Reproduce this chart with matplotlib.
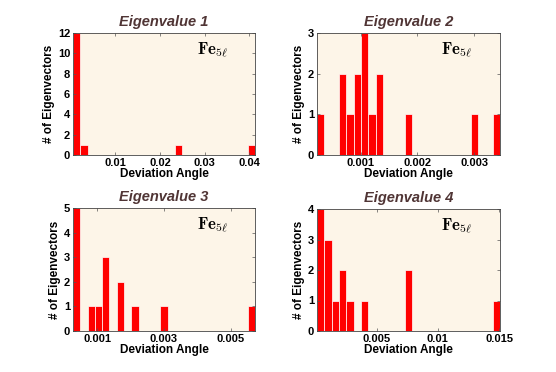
import numpy as np
import matplotlib
matplotlib.use("Agg")
import matplotlib.pyplot as plt

plt.rcParams['mathtext.fontset'] = 'cm'
plt.rcParams['font.family'] = ['Liberation Sans', 'DejaVu Sans']

n_bins = 25

# histogram range (min, max) and non-empty bins (index -> count) per eigenvalue
ranges = [(0.0005, 0.0413), (0.000235, 0.00345), (0.00028, 0.00573), (0.00014, 0.01508)]
bin_idx = [
    [0, 1, 14, 24],
    [0, 3, 4, 5, 6, 7, 8, 12, 21, 24],
    [0, 2, 3, 4, 6, 8, 12, 24],
    [0, 1, 2, 3, 4, 6, 12, 24],
]
counts = [
    [12, 1, 1, 1],
    [1, 2, 1, 2, 3, 1, 2, 1, 1, 1],
    [5, 1, 1, 3, 2, 1, 1, 1],
    [4, 3, 1, 2, 1, 1, 2, 1],
]
ymax = [12, 3, 5, 4]
yticks = [[0, 2, 4, 6, 8, 10, 12], [0, 1, 2, 3], [0, 1, 2, 3, 4, 5], [0, 1, 2, 3, 4]]
xticks = [[0.01, 0.02, 0.03, 0.04], [0.001, 0.002, 0.003],
          [0.001, 0.003, 0.005], [0.005, 0.01, 0.015]]
xticklabels = [['0.01', '0.02', '0.03', '0.04'], ['0.001', '0.002', '0.003'],
               ['0.001', '0.003', '0.005'], ['0.005', '0.01', '0.015']]
titles = ['Eigenvalue 1', 'Eigenvalue 2', 'Eigenvalue 3', 'Eigenvalue 4']

fig = plt.figure(figsize=(5.56, 3.72), dpi=100)
# axes boxes in pixels: left, right, top, bottom
boxes = [(73, 255, 33, 155), (317, 500, 33, 155), (73, 255, 208, 331), (317, 500, 209, 331)]
W, H = 556, 372

for k in range(4):
    l, r, t, b = boxes[k]
    ax = fig.add_axes([l / W, 1 - b / H, (r - l) / W, (b - t) / H])
    lo, hi = ranges[k]
    w = (hi - lo) / n_bins
    centers = lo + (np.array(bin_idx[k]) + 0.5) * w
    ax.bar(centers, counts[k], width=w, color='#ff0000', edgecolor='white', linewidth=0.5)
    ax.set_facecolor('#fdf5e8')
    ax.set_xlim(lo, hi)
    ax.set_ylim(0, ymax[k])
    ax.set_xticks(xticks[k])
    ax.set_xticklabels(xticklabels[k])
    ax.set_yticks(yticks[k])
    ax.tick_params(direction='in', top=True, right=True, length=2.5, width=0.5,
                   labelsize=8, pad=2, color='#555555')
    for lab in ax.get_xticklabels() + ax.get_yticklabels():
        lab.set_fontweight('bold')
    for s in ax.spines.values():
        s.set_linewidth(0.6)
        s.set_color('#444444')
    ax.set_xlabel('Deviation Angle', fontsize=8.5, fontweight='bold', labelpad=0)
    ax.set_ylabel('# of Eigenvectors', fontsize=8.5, fontweight='bold', labelpad=2)
    ax.set_title(titles[k], fontsize=10.5, fontweight='bold', style='italic',
                 color='#503535', pad=5)
    ax.text(0.68, 0.86, r'$\mathbf{Fe}_{5\ell}$', transform=ax.transAxes,
            fontsize=12, va='center', ha='left')

fig.savefig('out.png', dpi=100)
